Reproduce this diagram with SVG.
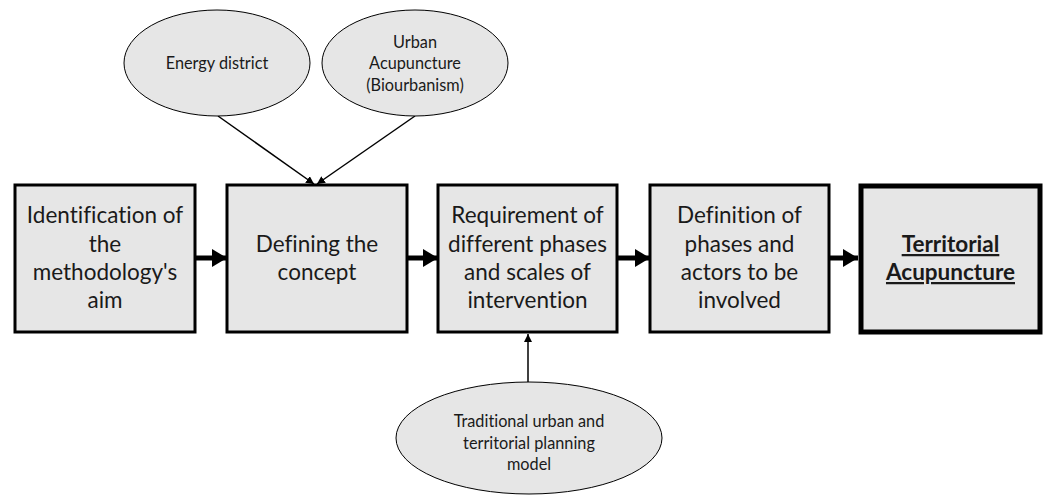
<svg xmlns="http://www.w3.org/2000/svg" width="1046" height="498" viewBox="0 0 1046 498">
  <style>
    .box { fill: #e6e6e6; stroke: #000; stroke-width: 3; }
    .box-main { fill: #e6e6e6; stroke: #000; stroke-width: 5; }
    .oval { fill: #e6e6e6; stroke: #000; stroke-width: 1; }
    .t { font-family: Lato, "Open Sans", "Liberation Sans", sans-serif; fill: #1a1a1a; text-anchor: middle; font-variant-ligatures: none; font-feature-settings: "liga" 0; }
    .tb { font-size: 22.5px; }
    .to { font-size: 16.3px; }
    .bold { font-weight: bold; text-decoration: underline; }
    .flow { stroke: #000; stroke-width: 5; fill: none; }
    .feed { stroke: #000; stroke-width: 1.5; fill: none; }
  </style>
  <defs>
    <marker id="bigArrow" markerUnits="userSpaceOnUse" markerWidth="16" markerHeight="18" refX="15" refY="9" orient="auto">
      <path d="M0,0 L15,9 L0,18 Z" fill="#000"/>
    </marker>
    <marker id="smallArrow" markerUnits="userSpaceOnUse" markerWidth="9" markerHeight="8" refX="8" refY="4" orient="auto">
      <path d="M0,0 L8,4 L0,8 Z" fill="#000"/>
    </marker>
  </defs>

  <rect width="1046" height="498" fill="#fff"/>

  <!-- connectors -->
  <g id="connectors">
    <line class="flow" x1="195" y1="258" x2="227" y2="258" marker-end="url(#bigArrow)"/>
    <line class="flow" x1="407" y1="258" x2="438" y2="258" marker-end="url(#bigArrow)"/>
    <line class="flow" x1="617" y1="258" x2="650" y2="258" marker-end="url(#bigArrow)"/>
    <line class="flow" x1="829" y1="258" x2="858" y2="258" marker-end="url(#bigArrow)"/>
    <line class="feed" x1="218" y1="116" x2="314" y2="184" marker-end="url(#smallArrow)"/>
    <line class="feed" x1="415" y1="116" x2="317" y2="184" marker-end="url(#smallArrow)"/>
    <line class="feed" x1="528" y1="382" x2="528" y2="334" marker-end="url(#smallArrow)"/>
  </g>

  <!-- process steps -->
  <g id="step-aim">
    <rect class="box" x="15" y="185" width="180" height="147"/>
    <text class="t tb" x="105" y="223">Identification of</text>
    <text class="t tb" x="105" y="252">the</text>
    <text class="t tb" x="105" y="280">methodology's</text>
    <text class="t tb" x="105" y="308">aim</text>
  </g>
  <g id="step-concept">
    <rect class="box" x="227" y="185" width="180" height="147"/>
    <text class="t tb" x="317" y="252">Defining the</text>
    <text class="t tb" x="317" y="280">concept</text>
  </g>
  <g id="step-phases">
    <rect class="box" x="438" y="185" width="179" height="147"/>
    <text class="t tb" x="527.5" y="223">Requirement of</text>
    <text class="t tb" x="527.5" y="252">different phases</text>
    <text class="t tb" x="527.5" y="280">and scales of</text>
    <text class="t tb" x="527.5" y="308">intervention</text>
  </g>
  <g id="step-actors">
    <rect class="box" x="650" y="185" width="179" height="147"/>
    <text class="t tb" x="739.5" y="223">Definition of</text>
    <text class="t tb" x="739.5" y="252">phases and</text>
    <text class="t tb" x="739.5" y="280">actors to be</text>
    <text class="t tb" x="739.5" y="308">involved</text>
  </g>
  <g id="step-result">
    <rect class="box-main" x="861" y="186" width="179" height="146"/>
    <text class="t tb bold" x="950.5" y="252">Territorial</text>
    <text class="t tb bold" x="950.5" y="280">Acupuncture</text>
  </g>

  <!-- inputs -->
  <g id="input-energy">
    <ellipse class="oval" cx="217" cy="63" rx="93" ry="53"/>
    <text class="t to" x="217" y="69">Energy district</text>
  </g>
  <g id="input-urban">
    <ellipse class="oval" cx="415" cy="63" rx="93" ry="53"/>
    <text class="t to" x="415" y="48">Urban</text>
    <text class="t to" x="415" y="69">Acupuncture</text>
    <text class="t to" x="415" y="91">(Biourbanism)</text>
  </g>
  <g id="input-traditional">
    <ellipse class="oval" cx="529" cy="438" rx="133" ry="56"/>
    <text class="t to" x="529" y="427">Traditional urban and</text>
    <text class="t to" x="529" y="449">territorial planning</text>
    <text class="t to" x="529" y="470">model</text>
  </g>
</svg>
